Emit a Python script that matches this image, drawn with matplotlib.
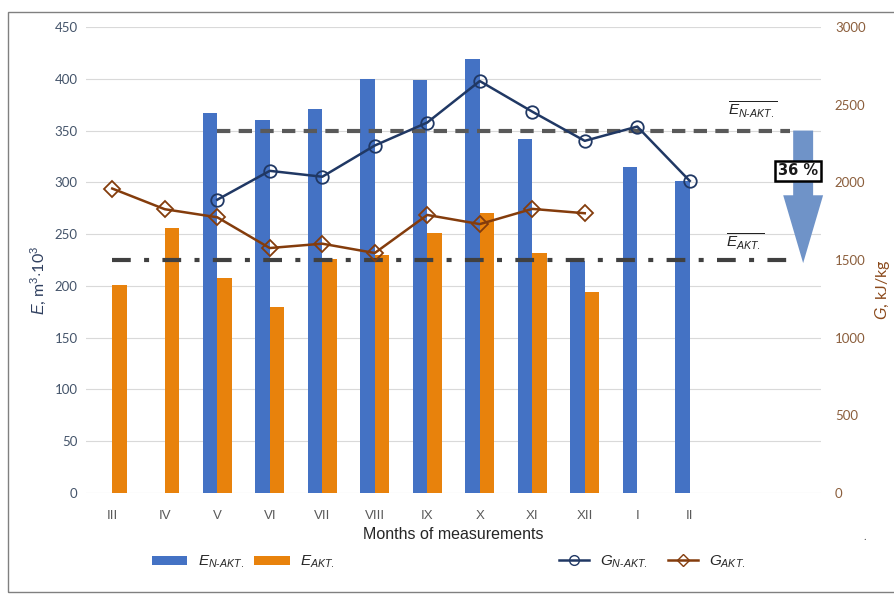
import matplotlib
matplotlib.use("Agg")
import matplotlib.pyplot as plt
from matplotlib.lines import Line2D
from matplotlib.patches import Patch, Rectangle, Polygon
import numpy as np

plt.rcParams['font.family'] = ['Lato', 'DejaVu Sans']
plt.rcParams['mathtext.fontset'] = 'custom'
plt.rcParams['mathtext.it'] = 'Liberation Sans:italic'
plt.rcParams['mathtext.rm'] = 'Liberation Sans'
plt.rcParams['mathtext.bf'] = 'Liberation Sans:bold'

months = ['III', 'IV', 'V', 'VI', 'VII', 'VIII', 'IX', 'X', 'XI', 'XII', 'I', 'II', '', '']
E_nakt = [None, None, 367, 360, 371, 400, 399, 419, 342, 224, 315, 301]
E_akt = [201, 256, 208, 180, 226, 230, 251, 270, 232, 194, None, None]
G_nakt = [None, None, 1888, 2074, 2036, 2237, 2385, 2652, 2455, 2267, 2359, 2009]
G_akt = [1960, 1827, 1775, 1577, 1605, 1545, 1790, 1731, 1829, 1801, None, None]
mean_E_nakt = 350
mean_E_akt = 225
reduction_label = '36 %'

blue = '#4472C4'
orange = '#E8820C'
navy = '#203864'
brown = '#843C0C'

def arr(v):
    return np.array([np.nan if x is None else x for x in v], dtype=float)

fig = plt.figure(figsize=(8.94, 5.94), dpi=100)
ax = fig.add_axes([86/894, 1-493/594, (821-86)/894, (493-27)/594])
ax2 = ax.twinx()

x = np.arange(len(months))
n = len(E_nakt)
bw = 0.28
ax.bar(x[:n] - bw/2, arr(E_nakt), width=bw, color=blue, zorder=2)
ax.bar(x[:n] + bw/2, arr(E_akt), width=bw, color=orange, zorder=2)

ax.set_xlim(-0.5, len(months) - 0.5)
ax.set_ylim(0, 450)
ax.set_yticks(np.arange(0, 451, 50))
ax.set_xticks(x)
ax.set_xticklabels(months, family='Liberation Sans')
ax.grid(axis='y', color='#D9D9D9', lw=0.8, zorder=0)
ax.set_axisbelow(True)
for s in ax.spines.values():
    s.set_visible(False)
for s in ax2.spines.values():
    s.set_visible(False)
ax.tick_params(axis='both', length=0)
ax.tick_params(axis='y', colors='#44546A', labelsize=9.5, pad=6)
ax.tick_params(axis='x', colors='#595959', labelsize=9.5, pad=12)

# mean lines
ax.plot([2, 12.9], [mean_E_nakt]*2, color='#595959', lw=3, dashes=(3.2, 2.0), zorder=3)
ax.plot([0, 12.9], [mean_E_akt]*2, color='#404040', lw=3, dashes=(4.5, 3.2, 1.2, 3.2), zorder=3)

# lines on right axis
ax2.set_ylim(0, 3000)
ax2.set_yticks(np.arange(0, 3001, 500))
ax2.tick_params(axis='y', length=0, colors='#8B5E3C', labelsize=9.5, pad=10)
ax2.plot(x[:n], arr(G_nakt), color=navy, lw=1.8, marker='o', ms=9,
         mfc='none', mec=navy, mew=1.3, zorder=4)
ax2.plot(x[:n], arr(G_akt), color=brown, lw=1.8, marker='D', ms=8,
         mfc='none', mec=brown, mew=1.3, zorder=4)

# arrow
xc = 13.16
sw = 0.19
hw = 0.38
head_start = mean_E_akt + 0.5 * (mean_E_nakt - mean_E_akt)
pts = [(xc - sw, mean_E_nakt), (xc + sw, mean_E_nakt), (xc + sw, head_start),
       (xc + hw, head_start), (xc, mean_E_akt - 3), (xc - hw, head_start),
       (xc - sw, head_start)]
ax.add_patch(Polygon(pts, closed=True, facecolor='#6F93C8', edgecolor='none', zorder=5, clip_on=False))

ax.text(13.06, 311, reduction_label, ha='center', va='center', fontsize=10.5, fontweight='bold',
        family='DejaVu Sans', color='#1a1a1a', zorder=6,
        bbox=dict(boxstyle='square,pad=0.2', facecolor='white', edgecolor='black', lw=1.8))
ax.text(12.19, 370, r'$\overline{E_{N\text{-}AKT.}}$', ha='center', va='center', fontsize=11, color='#222222')
ax.text(12.05, 243, r'$\overline{E_{AKT.}}$', ha='center', va='center', fontsize=11, color='#222222')

ax.set_xlabel('Months of measurements', fontsize=11.5, color='#262626', family='Liberation Sans', labelpad=4)

fig.text(38/894, 1-280/594, r'$E$, m$^3$$\cdot$10$^3$', rotation=90, ha='center', va='center',
         fontsize=11.5, color='#2F3F5F')
fig.text(882/894, 1-290/594, r'$G$, kJ/kg', rotation=90, ha='center', va='center',
         fontsize=11.5, color='#8B4A1C')

# legends
h1 = [Patch(facecolor=blue), Patch(facecolor=orange)]
l1 = [r'$E_{N\text{-}AKT.}$', r'$E_{AKT.}$']
leg1 = fig.legend(h1, l1, loc='center left', bbox_to_anchor=(138/894, 1-562/594), ncol=2,
                  frameon=False, fontsize=11, handlelength=2.3, handleheight=0.6,
                  columnspacing=0.7, handletextpad=0.7)
h2 = [Line2D([], [], color=navy, lw=1.8, marker='o', ms=7, mfc='none', mec=navy),
      Line2D([], [], color=brown, lw=1.8, marker='D', ms=6, mfc='none', mec=brown)]
l2 = [r'$G_{N\text{-}AKT.}$', r'$G_{AKT.}$']
leg2 = fig.legend(h2, l2, loc='center left', bbox_to_anchor=(545/894, 1-562/594), ncol=2,
                  frameon=False, fontsize=11, handlelength=2.0,
                  columnspacing=1.3, handletextpad=0.7)
for t in leg1.get_texts() + leg2.get_texts():
    t.set_color('#262626')

fig.text(865/894, 1-540/594, '.', fontsize=8, color='#595959', ha='center')
fig.add_artist(Rectangle((8/894, 1-592/594), 1.0, (592-12)/594, transform=fig.transFigure,
                         fill=False, edgecolor='#808080', lw=1.0))

fig.savefig('out.png', dpi=100)
